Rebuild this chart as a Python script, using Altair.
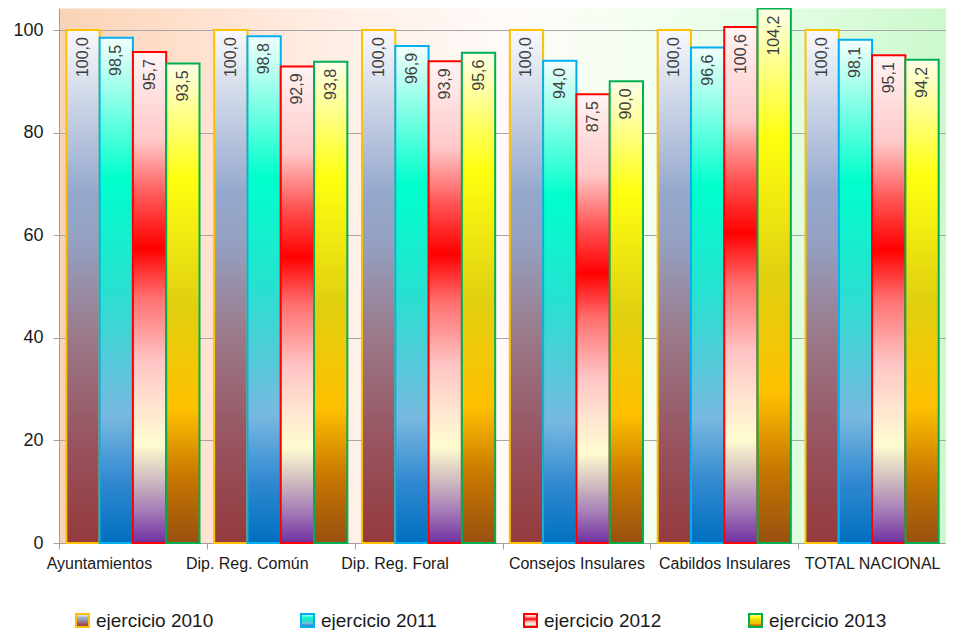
import altair as alt
import pandas as pd

categories = ["Ayuntamientos", "Dip. Reg. Común", "Dip. Reg. Foral",
              "Consejos Insulares", "Cabildos Insulares", "TOTAL NACIONAL"]
series = ["ejercicio 2010", "ejercicio 2011", "ejercicio 2012", "ejercicio 2013"]
v2010 = [100.0, 100.0, 100.0, 100.0, 100.0, 100.0]
v2011 = [98.5, 98.8, 96.9, 94.0, 96.6, 98.1]
v2012 = [95.7, 92.9, 93.9, 87.5, 100.6, 95.1]
v2013 = [93.5, 93.8, 95.6, 90.0, 104.2, 94.2]
y_ticks = [0, 20, 40, 60, 80, 100]

border_colors = ["#ffc000", "#00b0f0", "#ff0000", "#00b050"]
grad_stops = [
    [(0, "#f8f9fc"), (0.32, "#94a8cc"), (0.42, "#95a0c0"), (0.6, "#9a7888"), (0.8, "#985460"), (1, "#943a3c")],
    [(0, "#f4fffc"), (0.28, "#00ffcc"), (0.5, "#28e0d0"), (0.75, "#78b8e0"), (0.88, "#3088d0"), (1, "#0070c0")],
    [(0, "#fff4f4"), (0.18, "#ffc8c8"), (0.30, "#ff5050"), (0.40, "#ff0000"), (0.50, "#ff7070"),
     (0.63, "#ffc4c4"), (0.72, "#ffe4d0"), (0.80, "#fffcd0"), (0.87, "#d0bcc0"), (0.93, "#a880b8"), (1, "#7030a0")],
    [(0, "#ffffe8"), (0.24, "#ffff10"), (0.5, "#e0d010"), (0.72, "#ffc000"), (0.86, "#c87800"), (1, "#985010")],
]
bg_stops = [(0, "#fad3b6"), (0.167, "#ffe2d0"), (0.334, "#fff0e8"), (0.5, "#fffaf8"),
            (0.668, "#f2fff0"), (0.835, "#e0fde0"), (1, "#cdf8cd")]


def grad_expr(stops, x2=0, y2=1):
    s = ",".join("{offset:%s,color:'%s'}" % (o, c) for o, c in stops)
    return {"expr": "{gradient:'linear',x1:0,y1:0,x2:%d,y2:%d,stops:[%s]}" % (x2, y2, s)}


rows = []
for serie, vals in zip(series, [v2010, v2011, v2012, v2013]):
    for cat, v in zip(categories, vals):
        rows.append({"categoria": cat, "serie": serie, "valor": v,
                     "etiqueta": f"{v:.1f}".replace(".", ",")})
df = pd.DataFrame(rows)

shift_test = ("datum.value == 'Ayuntamientos' || datum.value == 'Dip. Reg. Común' "
              "|| datum.value == 'Dip. Reg. Foral'")

base = alt.Chart(df).encode(
    x=alt.X("categoria:N", sort=categories, title=None,
            scale=alt.Scale(paddingInner=0, paddingOuter=0),
            axis=alt.Axis(labelAngle=0, tickBand="extent", domainColor="#a0a0a0",
                          tickColor="#a0a0a0", tickSize=6, labelFontSize=16,
                          labelColor="#1a1a1a", labelPadding=6, grid=False,
                          labelOffset={"condition": {"test": shift_test, "value": -34}, "value": 0})),
    xOffset=alt.XOffset("serie:N", sort=series,
                        scale=alt.Scale(paddingInner=0, paddingOuter=0.22)),
    y=alt.Y("valor:Q", title=None,
            scale=alt.Scale(domain=[0, 104.3], nice=False),
            axis=alt.Axis(values=y_ticks, labelFontSize=18, labelColor="#1a1a1a",
                          tickSize=6, labelPadding=10, tickColor="#a0a0a0",
                          domainColor="#a0a0a0", gridColor="#a6a6a6")),
)

bars = base.mark_bar(strokeWidth=2).encode(
    fill=alt.Fill("serie:N", sort=series,
                  scale=alt.Scale(domain=series, range=[grad_expr(s) for s in grad_stops]),
                  legend=alt.Legend(title=None)),
    stroke=alt.Stroke("serie:N", sort=series,
                      scale=alt.Scale(domain=series, range=border_colors),
                      legend=alt.Legend(title=None)),
)

labels = base.mark_text(angle=270, align="right", baseline="middle", dx=-7,
                        fontSize=16, font="Liberation Sans", color="#404040").encode(
    text="etiqueta:N")

chart = alt.layer(bars, labels).properties(
    width=887, height=535,
    autosize=alt.AutoSizeParams(type="none"),
    padding={"left": 51, "top": 0, "right": 0, "bottom": 87},
).configure_view(
    stroke="transparent",
    fill=grad_expr(bg_stops, x2=1, y2=0),
).configure_axis(
    labelFont="Liberation Sans",
).configure_legend(
    orient="none", legendX=14, legendY=603, direction="horizontal",
    columnPadding=83, symbolType="square", symbolSize=169, symbolStrokeWidth=2,
    labelFontSize=19, labelFont="Liberation Sans", labelColor="#1a1a1a",
    labelOffset=4, padding=0,
)

chart.save("out.html", embed_options={"renderer": "svg", "actions": False})
